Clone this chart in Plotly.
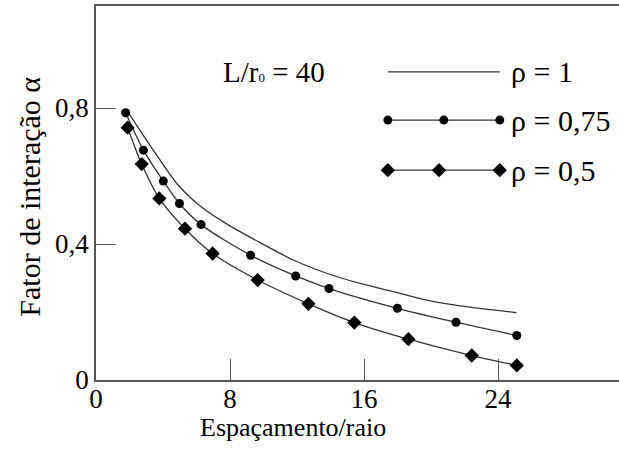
import plotly.graph_objects as go

# ---- data ----
x_rho1 = [1.83, 3.42, 4.82, 6.01, 7.6, 9.79, 11.78, 13.77, 15.76, 17.75, 19.74, 21.73, 23.72, 25.1]
y_rho1 = [0.794, 0.676, 0.578, 0.52, 0.465, 0.404, 0.353, 0.314, 0.284, 0.260, 0.235, 0.218, 0.206, 0.198]

x_rho075 = [1.77, 2.83, 4.02, 4.98, 6.27, 9.23, 11.92, 13.91, 17.99, 21.49, 25.12]
y_rho075 = [0.786, 0.676, 0.585, 0.519, 0.457, 0.367, 0.306, 0.269, 0.211, 0.170, 0.131]

x_rho05 = [1.89, 2.73, 3.78, 5.31, 6.96, 9.65, 12.68, 15.42, 18.65, 22.43, 25.12]
y_rho05 = [0.742, 0.635, 0.534, 0.445, 0.372, 0.294, 0.224, 0.169, 0.120, 0.072, 0.043]

x_tickvals = [0, 8, 16, 24]
x_ticktext = ["0", "8", "16", "24"]
y_tickvals = [0, 0.4, 0.8]
y_ticktext = ["0", "0,4", "0,8"]

legend_labels = ["ρ = 1", "ρ = 0,75", "ρ = 0,5"]
note_text = "L/r<span style='font-size:13px'>0</span> = 40"
x_title = "Espaçamento/raio"
y_title = "Fator de interação α"

FONT = "Liberation Serif, Times New Roman, Times, serif"
LINE_COL = "#333333"
AX_COL = "#555555"

fig = go.Figure()

line_style = dict(color=LINE_COL, width=1.3, shape="spline", smoothing=0.8)
fig.add_trace(go.Scatter(x=x_rho1, y=y_rho1, mode="lines", line=line_style, showlegend=False))
fig.add_trace(go.Scatter(x=x_rho075, y=y_rho075, mode="lines+markers", line=line_style,
                         marker=dict(symbol="circle", size=9, color="black"), showlegend=False))
fig.add_trace(go.Scatter(x=x_rho05, y=y_rho05, mode="lines+markers", line=line_style,
                         marker=dict(symbol="diamond", size=11, color="black"), showlegend=False))

# ---- hand-made legend on an overlay axis in fractional coordinates ----
leg_x0, leg_x1 = 0.558, 0.772
leg_y = [0.824, 0.695, 0.561]
fig.add_trace(go.Scatter(x=[leg_x0, leg_x1], y=[leg_y[0]] * 2, mode="lines",
                         line=dict(color=LINE_COL, width=1.3),
                         xaxis="x2", yaxis="y2", showlegend=False, hoverinfo="skip"))
fig.add_trace(go.Scatter(x=[leg_x0, 0.665, leg_x1], y=[leg_y[1]] * 3, mode="lines+markers",
                         line=dict(color=LINE_COL, width=1.3),
                         marker=dict(symbol="circle", size=9, color="black"),
                         xaxis="x2", yaxis="y2", showlegend=False, hoverinfo="skip"))
fig.add_trace(go.Scatter(x=[leg_x0, 0.656, leg_x1], y=[leg_y[2]] * 3, mode="lines+markers",
                         line=dict(color=LINE_COL, width=1.3),
                         marker=dict(symbol="diamond", size=11, color="black"),
                         xaxis="x2", yaxis="y2", showlegend=False, hoverinfo="skip"))

leg_font = dict(family=FONT, size=30, color="black")
annotations = []
for lab, yy in zip(legend_labels, leg_y):
    annotations.append(dict(x=0.790, y=yy, xref="x2", yref="y2", text=lab,
                            showarrow=False, xanchor="left", yanchor="middle", font=leg_font))
annotations.append(dict(x=0.34, y=0.824, xref="x2", yref="y2", text=note_text,
                        showarrow=False, xanchor="center", yanchor="middle",
                        font=dict(family=FONT, size=29, color="black")))
annotations.append(dict(x=0.377, y=-0.126, xref="paper", yref="paper", text=x_title,
                        showarrow=False, xanchor="center", yanchor="middle",
                        font=dict(family=FONT, size=26, color="black")))
annotations.append(dict(x=-0.127, y=0.489, xref="paper", yref="paper", text=y_title,
                        textangle=-90, showarrow=False, xanchor="center", yanchor="middle",
                        font=dict(family=FONT, size=30, color="black")))

fig.update_layout(
    width=619, height=450,
    margin=dict(l=96, r=0, t=6, b=70, autoexpand=False),
    paper_bgcolor="white", plot_bgcolor="white",
    font=dict(family=FONT, size=26, color="black"),
    showlegend=False,
    annotations=annotations,
    xaxis=dict(range=[0, 31.22], tickvals=x_tickvals, ticktext=x_ticktext,
               ticks="inside", ticklen=21, tickcolor=AX_COL, tickwidth=1.3,
               showline=True, linecolor=AX_COL, linewidth=1.5, mirror=True,
               showgrid=False, zeroline=False, automargin=False,
               ticklabelstandoff=-6,
               tickfont=dict(family=FONT, size=27)),
    yaxis=dict(range=[0, 1.1], tickvals=y_tickvals, ticktext=y_ticktext,
               ticks="inside", ticklen=20, tickcolor=AX_COL, tickwidth=1.3,
               showline=True, linecolor=AX_COL, linewidth=1.5, mirror=False,
               showgrid=False, zeroline=False, automargin=False,
               tickfont=dict(family=FONT, size=27)),
    xaxis2=dict(range=[0, 1], overlaying="x", visible=False, domain=[0, 1]),
    yaxis2=dict(range=[0, 1], overlaying="y", visible=False, domain=[0, 1]),
)

fig.write_html("out.html", config={"displayModeBar": False},
               post_script="document.body.style.margin='0px';document.body.style.overflow='hidden';")
